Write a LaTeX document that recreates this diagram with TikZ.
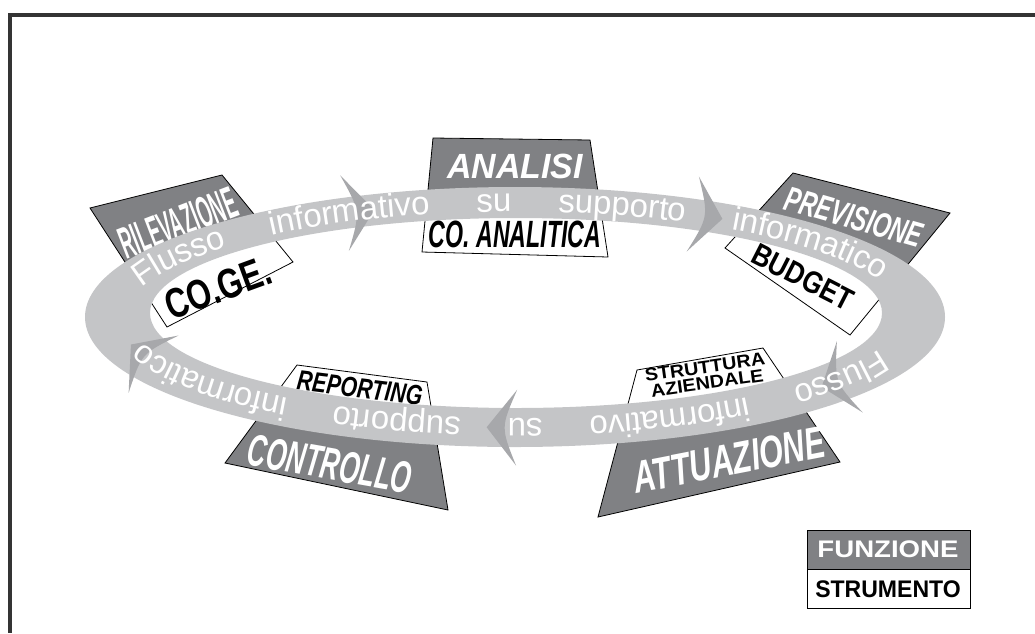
\documentclass[tikz,border=0pt]{standalone}
\usepackage{fontspec}
\setmainfont{Liberation Sans}
\usetikzlibrary{calc,decorations.text}
\definecolor{boxgray}{RGB}{128,129,132}
\definecolor{ringgray}{RGB}{196,197,199}
\definecolor{tipgray}{RGB}{167,168,171}
\definecolor{framegray}{RGB}{52,52,52}
\def\splitbox[#1/#2](#3)(#4)(#5)(#6)(#7:#8){%
	\fill[#1] (#3) -- (#4) -- ($(#4)!#8!(#5)$) -- ($(#3)!#7!(#6)$) -- cycle;
	\fill[#2] ($(#3)!#7!(#6)$) -- ($(#4)!#8!(#5)$) -- (#5) -- (#6) -- cycle;
	\draw[line width=0.8pt] (#3) -- (#4) -- (#5) -- (#6) -- cycle;
	\draw[line width=0.8pt] ($(#3)!#7!(#6)$) -- ($(#4)!#8!(#5)$);}
\newcommand\lbl[1]{\fontsize{#1}{#1}\selectfont\bfseries}
\tikzset{
	funz/.style={text=white, inner sep=0pt},
	strum/.style={text=black, inner sep=0pt},
	bandtext/.style={decorate, decoration={text along path, raise=-9pt,
		text align={fit to path stretching spaces},
		text={|\fontsize{33}{33}\selectfont\color{white}|Flusso informativo su supporto informatico}}}
}
\begin{document}
\begin{tikzpicture}[x=1pt, y=-1pt]
			%%%%% FRAME %%%%%
			\useasboundingbox (0,0) rectangle (1035,633);
			\draw[framegray, line width=4.3pt] (1035,15) -- (10,15) -- (10,633);
			
			%%%%% BOXES %%%%%
			\splitbox[boxgray/white](90,208)(222,175)(293,262)(167,327)(0.5:0.5);
			\splitbox[boxgray/white](433,138)(590,140)(608,257)(422,252)(0.55:0.55);
			\splitbox[boxgray/white](793,173)(950,213)(850,335)(725,248)(0.6:0.6);
			\splitbox[white/boxgray](297,365)(427,382)(448,510)(225,463)(0.45:0.32);
			\splitbox[white/boxgray](637,370)(763,348)(840,462)(598,517)(0.32:0.44);
			
			\node[funz, rotate=21, xscale=0.41, font=\lbl{45}] (rilevazione) at (178,223) {RILEVAZIONE};
			\node[strum, rotate=20, xscale=0.75, font=\lbl{42}] (coge) at (218,288) {CO.GE.};
			\node[funz, xscale=0.97, font=\lbl{35}\itshape] (analisi) at (515,166) {ANALISI};
			\node[strum, xscale=0.61, font=\lbl{38}\itshape] (coanalitica) at (515,234) {CO. ANALITICA};
			\node[funz, rotate=-16, xscale=0.66, font=\lbl{35}\itshape] (previsione) at (854,217) {PREVISIONE};
			\node[strum, rotate=-27, xscale=0.84, font=\lbl{31}] (budget) at (803,277) {BUDGET};
			\node[strum, rotate=-7, xscale=0.76, font=\lbl{28}\itshape] (reporting) at (360,388) {REPORTING};
			\node[funz, rotate=-10, xscale=0.58, font=\lbl{45}\itshape] (controllo) at (330,464) {CONTROLLO};
			\node[strum, rotate=8, xscale=1.1, align=center, font={\fontsize{18}{16}\selectfont\bfseries}] (struttura) at (706,375) {STRUTTURA\\AZIENDALE};
			\node[funz, rotate=11, xscale=0.68, font=\lbl{45}\itshape] (attuazione) at (729,460) {ATTUAZIONE};
			
			%%%%% RING %%%%%
			\fill[ringgray, even odd rule] (515,317) ellipse (430 and 130) (516,313) ellipse (366 and 95);
			\foreach \t in {248,300,38,93,162}
				\fill[tipgray, shift={({515.5+398*cos(\t)},{315+112.5*sin(\t)})}, rotate={atan2(-112.5*cos(\t),-398*sin(\t))}]
					(8,0) -- (-22,38) .. controls (-6,0) .. (-22,-38) -- cycle;
			\path[bandtext] plot[domain=198:338, samples=90] ({515.5+398*cos(\x)},{315+112.5*sin(\x)});
			\path[bandtext] plot[domain=22:162, samples=90] ({515.5+398*cos(\x)},{315+112.5*sin(\x)});
			
			%%%%% LEGEND %%%%%
			\fill[boxgray] (807,530) rectangle (970,569);
			\draw[line width=0.8pt] (807,530) rectangle (970,608);
			\draw[line width=0.8pt] (807,569) -- (970,569);
			\node[funz, xscale=1.15, font=\lbl{24}] (funzione) at (888,549) {FUNZIONE};
			\node[strum, xscale=0.96, font=\lbl{24}] (strumento) at (888,589) {STRUMENTO};
\end{tikzpicture}
\end{document}
